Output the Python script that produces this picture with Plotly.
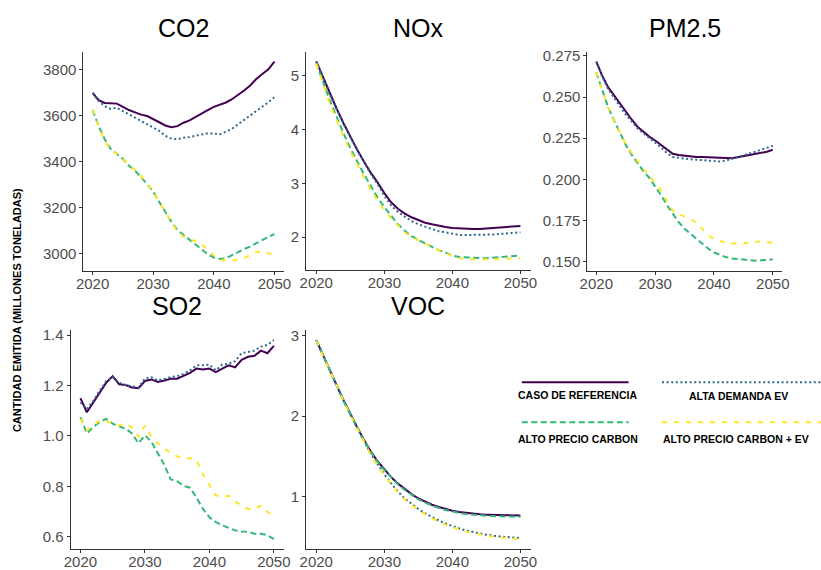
import plotly.graph_objects as go

W, H = 821, 570

years = list(range(2020, 2051))

scenario_names = ["CASO DE REFERENCIA", "ALTA DEMANDA EV", "ALTO PRECIO CARBON", "ALTO PRECIO CARBON + EV"]
scenario_colors = ["#440154", "#31688E", "#35B779", "#FDE725"]
scenario_dash = ["solid", "2px,2.6px", "6px,3.5px", "5px,7px"]

co2_ref = [3700, 3668, 3656, 3655, 3653, 3639, 3625, 3615, 3605, 3599, 3587, 3572, 3558, 3550, 3555, 3570,
           3580, 3595, 3613, 3625, 3639, 3648, 3658, 3672, 3690, 3710, 3732, 3760, 3782, 3802, 3836]
co2_ev = [3700, 3664, 3642, 3630, 3635, 3620, 3606, 3592, 3577, 3563, 3549, 3534, 3513, 3501, 3498, 3505,
          3508, 3513, 3518, 3524, 3523, 3520, 3531, 3544, 3563, 3582, 3599, 3620, 3639, 3659, 3681]
co2_carbon = [3625, 3556, 3498, 3455, 3434, 3412, 3383, 3362, 3333, 3304, 3271, 3225, 3182, 3139, 3103, 3082,
              3060, 3039, 3017, 2998, 2984, 2977, 2981, 2993, 3007, 3021, 3031, 3046, 3060, 3074, 3086]
co2_carbon_ev = [3628, 3550, 3492, 3450, 3434, 3410, 3386, 3364, 3340, 3304, 3268, 3225, 3185, 3139, 3096, 3074,
                 3060, 3056, 3041, 3017, 2993, 2974, 2970, 2970, 2974, 2981, 2995, 3007, 3010, 3003, 2995]

nox_ref = [5.27, 4.97, 4.66, 4.39, 4.12, 3.87, 3.63, 3.41, 3.20, 3.02, 2.82, 2.65, 2.53, 2.44, 2.37, 2.32,
           2.27, 2.24, 2.21, 2.19, 2.17, 2.16, 2.15, 2.15, 2.15, 2.16, 2.16, 2.17, 2.18, 2.19, 2.21]
nox_ev = [5.27, 4.96, 4.65, 4.38, 4.11, 3.86, 3.62, 3.39, 3.18, 2.99, 2.77, 2.59, 2.47, 2.38, 2.30, 2.24,
          2.20, 2.15, 2.11, 2.09, 2.06, 2.04, 2.04, 2.04, 2.04, 2.05, 2.05, 2.06, 2.07, 2.09, 2.09]
nox_carbon = [5.24, 4.88, 4.54, 4.24, 3.93, 3.66, 3.41, 3.17, 2.96, 2.74, 2.56, 2.39, 2.24, 2.12, 2.02, 1.95,
              1.88, 1.82, 1.76, 1.71, 1.66, 1.63, 1.62, 1.61, 1.61, 1.61, 1.62, 1.62, 1.63, 1.65, 1.66]
nox_carbon_ev = [5.23, 4.85, 4.48, 4.18, 3.87, 3.60, 3.35, 3.11, 2.88, 2.68, 2.50, 2.35, 2.21, 2.09, 2.00, 1.94,
                 1.87, 1.81, 1.75, 1.70, 1.65, 1.61, 1.59, 1.59, 1.58, 1.58, 1.59, 1.59, 1.60, 1.60, 1.61]

pm_ref = [0.2716, 0.263, 0.256, 0.251, 0.246, 0.241, 0.2364, 0.232, 0.229, 0.226, 0.2236, 0.221, 0.218, 0.2156,
          0.2148, 0.2144, 0.2138, 0.2136, 0.2136, 0.2134, 0.2132, 0.213, 0.2128, 0.2128, 0.2134, 0.214, 0.2148,
          0.2156, 0.216, 0.2168, 0.218]
pm_ev = [0.2716, 0.2624, 0.255, 0.2494, 0.2444, 0.2394, 0.235, 0.231, 0.228, 0.2254, 0.2224, 0.2194, 0.216,
         0.2136, 0.213, 0.2126, 0.2122, 0.212, 0.2116, 0.2112, 0.2108, 0.2108, 0.2114, 0.2124, 0.2134, 0.2146,
         0.2158, 0.2168, 0.218, 0.219, 0.2204]
pm_carbon = [0.265, 0.254, 0.244, 0.236, 0.228, 0.221, 0.215, 0.210, 0.205, 0.201, 0.196, 0.1904, 0.1844, 0.179,
             0.174, 0.170, 0.167, 0.164, 0.161, 0.158, 0.1556, 0.154, 0.1528, 0.152, 0.1516, 0.1512, 0.1508,
             0.1506, 0.1508, 0.151, 0.1514]
pm_carbon_ev = [0.265, 0.2536, 0.2436, 0.2356, 0.228, 0.2214, 0.216, 0.211, 0.2064, 0.2024, 0.198, 0.193, 0.187,
                0.181, 0.179, 0.1776, 0.176, 0.1736, 0.170, 0.1664, 0.1636, 0.1624, 0.1616, 0.161, 0.1608, 0.161,
                0.1616, 0.1622, 0.1624, 0.162, 0.1612]

so2_ref = [1.15, 1.094, 1.133, 1.172, 1.211, 1.237, 1.205, 1.202, 1.192, 1.189, 1.218, 1.224, 1.214, 1.220,
           1.227, 1.227, 1.237, 1.250, 1.267, 1.263, 1.267, 1.253, 1.267, 1.280, 1.272, 1.302, 1.314, 1.318,
           1.338, 1.328, 1.357]
so2_ev = [1.133, 1.107, 1.140, 1.179, 1.218, 1.233, 1.211, 1.202, 1.198, 1.192, 1.228, 1.233, 1.220, 1.228,
          1.233, 1.237, 1.246, 1.260, 1.280, 1.280, 1.283, 1.260, 1.283, 1.286, 1.296, 1.328, 1.332, 1.338,
          1.354, 1.361, 1.380]
so2_carbon = [1.075, 1.010, 1.036, 1.055, 1.068, 1.049, 1.038, 1.029, 1.010, 0.971, 1.003, 0.977, 0.932, 0.886,
              0.828, 0.821, 0.802, 0.795, 0.756, 0.711, 0.678, 0.659, 0.646, 0.635, 0.626, 0.622, 0.620, 0.613,
              0.613, 0.607, 0.591]
so2_carbon_ev = [1.068, 1.023, 1.042, 1.062, 1.058, 1.049, 1.042, 1.051, 1.033, 0.997, 1.042, 0.997, 0.971,
                 0.951, 0.932, 0.919, 0.912, 0.912, 0.906, 0.847, 0.808, 0.765, 0.760, 0.763, 0.739, 0.726,
                 0.711, 0.711, 0.724, 0.700, 0.678]

voc_ref = [2.947, 2.754, 2.569, 2.384, 2.199, 2.027, 1.862, 1.706, 1.563, 1.439, 1.337, 1.242, 1.160, 1.090,
           1.029, 0.975, 0.934, 0.897, 0.869, 0.844, 0.823, 0.807, 0.795, 0.786, 0.778, 0.774, 0.770, 0.766,
           0.762, 0.762, 0.762]
voc_ev = [2.947, 2.754, 2.569, 2.384, 2.199, 2.023, 1.854, 1.690, 1.534, 1.398, 1.275, 1.164, 1.062, 0.975,
          0.906, 0.844, 0.791, 0.741, 0.700, 0.663, 0.630, 0.602, 0.577, 0.556, 0.540, 0.524, 0.511, 0.503,
          0.495, 0.487, 0.483]
voc_carbon = [2.94, 2.75, 2.56, 2.38, 2.19, 2.02, 1.855, 1.70, 1.555, 1.43, 1.33, 1.235, 1.15, 1.08, 1.02, 0.965,
              0.922, 0.885, 0.856, 0.831, 0.810, 0.794, 0.781, 0.772, 0.765, 0.760, 0.756, 0.752, 0.750, 0.748,
              0.747]
voc_carbon_ev = [2.94, 2.75, 2.56, 2.38, 2.19, 2.015, 1.845, 1.68, 1.52, 1.385, 1.262, 1.15, 1.05, 0.962,
                 0.892, 0.830, 0.777, 0.727, 0.686, 0.649, 0.616, 0.588, 0.563, 0.543, 0.527, 0.511, 0.499,
                 0.490, 0.482, 0.475, 0.468]

panel_titles = ["CO2", "NOx", "PM2.5", "SO2", "VOC"]
co2_ticks = [3000, 3200, 3400, 3600, 3800]
nox_ticks = [2, 3, 4, 5]
pm_ticks = [0.150, 0.175, 0.200, 0.225, 0.250, 0.275]
so2_ticks = [0.6, 0.8, 1.0, 1.2, 1.4]
voc_ticks = [1, 2, 3]
x_ticks = [2020, 2030, 2040, 2050]

# layout (pixel boxes: left, right, top, bottom)
panels = [
    dict(title=panel_titles[0], series=[co2_ref, co2_ev, co2_carbon, co2_carbon_ev], ticks=co2_ticks, fmt="d",
         box=(77, 281, 48, 269)),
    dict(title=panel_titles[1], series=[nox_ref, nox_ev, nox_carbon, nox_carbon_ev], ticks=nox_ticks, fmt="d",
         box=(304, 533, 48, 268)),
    dict(title=panel_titles[2], series=[pm_ref, pm_ev, pm_carbon, pm_carbon_ev], ticks=pm_ticks, fmt=".3f",
         box=(591, 789, 48, 269)),
    dict(title=panel_titles[3], series=[so2_ref, so2_ev, so2_carbon, so2_carbon_ev], ticks=so2_ticks, fmt=".1f",
         box=(64, 281, 329, 550)),
    dict(title=panel_titles[4], series=[voc_ref, voc_ev, voc_carbon, voc_carbon_ev], ticks=voc_ticks, fmt="d",
         box=(304, 533, 329, 550)),
]

FONT = "Liberation Sans, Arial, sans-serif"
fig = go.Figure()
layout = {}
annotations = []
shapes = []

for i, p in enumerate(panels, start=1):
    xa = "x" if i == 1 else f"x{i}"
    ya = "y" if i == 1 else f"y{i}"
    for s, vals in enumerate(p["series"]):
        fig.add_trace(go.Scatter(
            x=years, y=vals, mode="lines", xaxis=xa, yaxis=ya,
            name=scenario_names[s], showlegend=False,
            line=dict(color=scenario_colors[s], width=2, dash=scenario_dash[s]),
        ))
    allv = [v for ser in p["series"] for v in ser]
    lo, hi = min(allv), max(allv)
    pad = (hi - lo) * 0.05
    l, r, t, b = p["box"]
    axis_common = dict(showgrid=False, zeroline=False, showline=True, linecolor="#333333", linewidth=1.2,
                       ticks="outside", ticklen=3, tickcolor="#333333", tickwidth=1,
                       tickfont=dict(family=FONT, size=15, color="#4d4d4d"))
    layout["xaxis" if i == 1 else f"xaxis{i}"] = dict(
        domain=[l / W, r / W], anchor=ya, range=[2018.5, 2051.5], tickvals=x_ticks,
        ticklabelstandoff=-4, **axis_common)
    layout["yaxis" if i == 1 else f"yaxis{i}"] = dict(
        domain=[1 - b / H, 1 - t / H], anchor=xa, range=[lo - pad, hi + pad], tickvals=p["ticks"],
        tickformat=p["fmt"], **axis_common)
    annotations.append(dict(text=p["title"], xref="paper", yref="paper", x=(l + r) / 2 / W,
                            y=1 - (t - 24) / H, xanchor="center", yanchor="middle", showarrow=False,
                            font=dict(family=FONT, size=25, color="black")))

annotations.append(dict(text="<b>CANTIDAD EMITIDA (MILLONES TONELADAS)</b>", xref="paper", yref="paper",
                        x=9 / W, y=1 - 309 / H, textangle=-90, showarrow=False, xanchor="center",
                        yanchor="middle", font=dict(family=FONT, size=11, color="black")))

# manual legend
leg = [
    (0, 524, 633, 381.5, 581, 394),
    (1, 667, 830, 381.5, 745, 395),
    (2, 524, 633, 422, 581, 439),
    (3, 667, 830, 422, 742, 439),
]
for s, x0, x1, yl, xt, yt in leg:
    shapes.append(dict(type="line", xref="paper", yref="paper", x0=x0 / W, x1=x1 / W, y0=1 - yl / H,
                       y1=1 - yl / H, line=dict(color=scenario_colors[s], width=2, dash=scenario_dash[s])))
    annotations.append(dict(text=f"<b>{scenario_names[s]}</b>", xref="paper", yref="paper", x=xt / W,
                            y=1 - yt / H, xanchor="center", yanchor="middle", showarrow=False,
                            font=dict(family=FONT, size=10.5, color="black")))

fig.update_layout(
    width=W, height=H, margin=dict(l=0, r=0, t=0, b=0),
    paper_bgcolor="white", plot_bgcolor="white",
    annotations=annotations, shapes=shapes, showlegend=False, **layout,
)

fig.write_html("out.html", config={"displayModeBar": False},
               post_script="document.body.style.margin='0px';document.body.style.overflow='hidden';")
